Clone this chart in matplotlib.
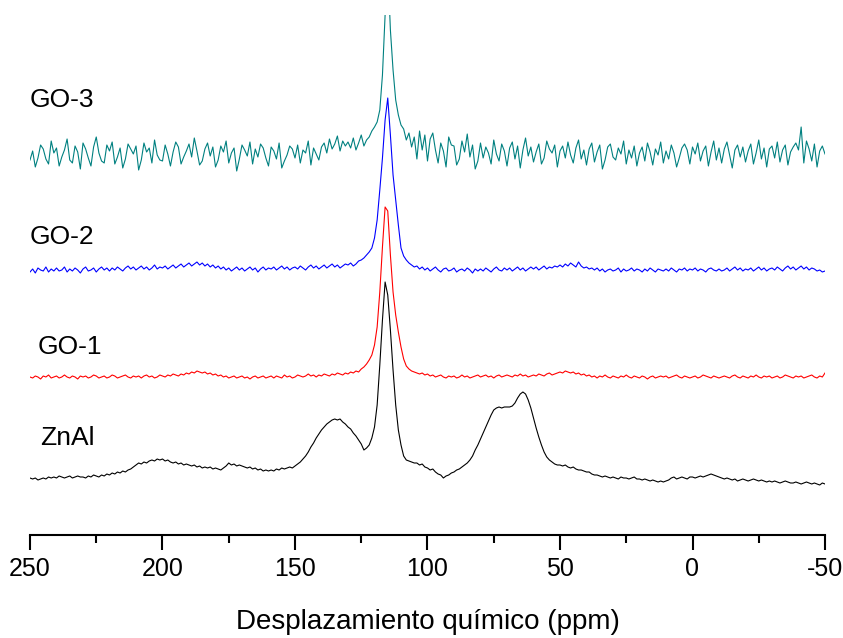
import numpy as np
import matplotlib
matplotlib.use("Agg")
import matplotlib.pyplot as plt
from matplotlib.ticker import MultipleLocator

plt.rcParams['font.family'] = ['Liberation Sans', 'DejaVu Sans']
plt.rcParams['axes.unicode_minus'] = False

# chemical shift grid, 1 ppm steps from 250 down to -50
ppm = np.arange(250, -51, -1)

# intensities (arbitrary units, each trace on its own baseline)
znal = [
    2, 1, 2, 0, 1, 2, 1, 3, 2, 3,
    2, 4, 3, 2, 3, 4, 2, 3, 4, 3,
    3, 2, 4, 3, 5, 4, 3, 5, 4, 6,
    5, 7, 6, 8, 7, 9, 8, 10, 11, 13,
    15, 17, 16, 18, 17, 19, 20, 19, 21, 20,
    21, 19, 20, 18, 17, 18, 16, 17, 15, 16,
    15, 14, 15, 13, 14, 12, 13, 12, 13, 11,
    12, 11, 10, 12, 14, 17, 15, 16, 14, 15,
    14, 13, 12, 13, 11, 12, 10, 11, 9, 10,
    9, 10, 9, 11, 10, 12, 11, 12, 13, 12,
    14, 16, 18, 21, 24, 28, 33, 37, 42, 46,
    50, 53, 56, 58, 60, 61, 60, 61, 58, 56,
    53, 51, 47, 44, 40, 36, 30, 32, 35, 42,
    53, 75, 115, 160, 198, 185, 150, 110, 75, 50,
    35, 24, 20, 19, 18, 17, 17, 15, 16, 13,
    12, 10, 11, 8, 6, 5, 2, 4, 5, 7,
    8, 10, 11, 13, 15, 17, 20, 24, 30, 35,
    41, 47, 53, 59, 65, 70, 72, 73, 72, 73,
    73, 73, 74, 77, 82, 86, 88, 86, 80, 72,
    62, 52, 43, 35, 28, 23, 20, 18, 16, 15,
    15, 14, 15, 13, 12, 13, 11, 10, 10, 9,
    8, 8, 6, 5, 5, 4, 3, 4, 3, 2,
    3, 2, 1, 3, 2, 2, 1, 2, 3, 1,
    1, 0, 1, 0, -1, 0, -1, -2, -1, -2,
    -1, 0, 2, 3, 1, 2, 3, 2, 1, 3,
    3, 2, 3, 4, 3, 4, 5, 6, 5, 4,
    3, 2, 1, 2, 1, 0, 1, -1, 0, 1,
    0, -1, 0, 1, 0, -1, 0, -1, -2, -1,
    -2, -1, -2, -3, -2, -1, -2, -3, -3, -2,
    -3, -4, -3, -2, -3, -4, -3, -4, -5, -3, -4,
]

go1 = [
    0, -1, 1, 0, -2, 1, 0, 2, -1, 0,
    1, -1, 0, 2, 0, -1, 1, 0, -2, 1,
    0, 1, -1, 0, 2, 1, -1, 0, 1, -1,
    0, 2, 1, -1, 0, 1, 2, 0, -1, 1,
    0, 1, -1, 1, 2, 0, 1, -1, 0, 2,
    1, 0, 2, 1, 3, 2, 1, 3, 2, 4,
    3, 5, 4, 6, 5, 4, 5, 3, 4, 2,
    3, 1, 2, 0, 1, -1, 0, 1, -1, 0,
    1, -1, 0, -2, 0, 1, -1, 0, 1, -1,
    0, 1, -1, 1, 0, -1, 2, 0, 1, -1,
    0, 2, 1, 0, 1, 3, 1, 2, 0, 2,
    1, 3, 2, 1, 3, 2, 4, 3, 2, 4,
    3, 5, 4, 6, 5, 8, 10, 13, 17, 22,
    32, 50, 85, 130, 170, 166, 122, 85, 62, 45,
    30, 18, 11, 8, 6, 5, 4, 3, 4, 2,
    3, 1, 2, 0, 1, 2, 0, -1, 1, 0,
    1, -1, 0, 2, 0, 1, -1, 0, 1, 2,
    0, 1, 2, 0, 1, -1, 1, 2, 0, 1,
    2, 1, 0, 2, 1, 3, 1, 2, 0, 1,
    2, 1, 3, 2, 1, 3, 4, 2, 3, 4,
    5, 4, 6, 5, 4, 5, 3, 4, 2, 3,
    1, 2, 0, 1, -1, 1, 0, 2, 0, -1,
    1, 0, -1, 1, 0, 2, 0, -1, 1, 0,
    -1, 1, 0, -2, 0, 1, -1, 0, 1, 0,
    1, -1, 0, 1, 2, 0, -1, 1, 0, -1,
    0, 1, -1, 0, 2, 1, 0, -1, 1, 0,
    -1, 0, 1, 0, -1, 1, 2, 0, -1, 1,
    0, -1, 1, 0, 2, 0, -1, 1, 0, 1,
    -1, 0, 1, -1, 0, 2, 1, 0, -1, 1,
    0, 1, -1, 0, 1, 2, 0, -1, 1, 0, 4,
]

go2 = [
    -2, 1, -3, 2, 0, -1, 3, -2, 1, -1,
    2, -1, 0, 3, -2, 1, -1, 2, 0, -3,
    1, 3, -1, 0, 2, -2, 1, 3, 0, 2,
    -1, 2, 0, 3, 1, -1, 2, 4, 1, 3,
    0, 2, 4, 1, 3, 0, 2, 5, 1, 3,
    2, 4, 1, 3, 5, 2, 4, 6, 3, 5,
    7, 4, 6, 8, 5, 7, 4, 6, 3, 5,
    2, 4, 1, 3, 0, 2, -1, 1, 3, 0,
    2, -1, 1, 3, 0, 2, -2, 1, 3, 0,
    2, 1, 3, 0, 2, 4, 1, 3, 0, 2,
    3, 1, 4, 2, 0, 3, 5, 2, 4, 1,
    3, 5, 2, 4, 6, 3, 5, 2, 4, 6,
    5, 7, 4, 6, 9, 10, 12, 15, 18, 22,
    32, 50, 80, 112, 150, 172, 135, 95, 70, 45,
    22, 14, 10, 7, 5, 3, 4, 1, 3, 0,
    2, -1, 1, 3, 0, -2, 1, 2, -1, 0,
    2, -2, 0, 1, -1, 2, 0, -3, 1, -1,
    1, -1, 2, 0, -2, 1, 3, 0, -1, 2,
    0, 2, -1, 1, 3, 0, 2, -1, 1, 3,
    1, 3, 0, 2, 4, 1, 3, 2, 4, 3,
    5, 3, 6, 4, 7, 5, 3, 8, 4, 2,
    3, 1, 2, 0, 2, -1, 1, -2, 0, 1,
    -1, 0, 2, -2, 1, -1, 0, 2, -1, 1,
    0, -2, 1, -1, 2, 0, -2, 1, 0, -1,
    1, -1, 2, 0, -2, 1, 0, 2, -1, 1,
    0, 2, -1, 1, 0, -2, 1, 2, 0, -1,
    1, -1, 0, 2, -1, 1, 3, 0, 2, -1,
    1, 0, 2, -1, 1, 3, 0, 2, -1, 1,
    2, 0, 3, 1, -1, 2, 4, 1, 3, 0,
    2, 4, 1, 3, 0, 2, 1, -1, 0, -2, -1,
]

go3 = [
    -5, 4, -12, -3, 10, 6, -4, -9, 14, 2,
    7, -11, -2, 5, 16, -5, -8, 9, 3, -14,
    12, 6, -3, -11, 8, 18, 2, -6, -8, 10,
    4, 13, -9, -2, 7, -13, -4, 11, 6, 1,
    9, -15, -5, 12, 3, 7, -8, 15, 0, -5,
    -6, 10, 1, -11, 3, 13, 8, -9, -2, 4,
    11, -2, 17, 4, -10, -6, 6, 12, -1, 8,
    -12, -5, 9, 3, 14, -8, 2, 7, -16, -4,
    10, 5, -1, 13, -9, 6, -2, 11, 7, -3,
    -11, 8, 4, -4, 12, -13, -6, 0, 9, 6,
    -3, 10, -8, 5, 2, 14, -10, 7, 1, -5,
    8, 12, 2, 16, 6, 11, 19, 4, 14, 9,
    13, 7, 17, 5, 12, 20, 9, 15, 18, 24,
    28, 33, 45, 80, 140, 190, 125, 85, 55, 40,
    30, 26, 15, 22, 8, 18, -4, 24, 5, 20,
    -6, 16, 22, 5, -8, 12, 4, -12, 18, 10,
    9, -10, -4, 14, 3, 21, -2, 10, -14, -6,
    12, -3, 8, 2, -9, 15, 1, -6, 11, 4,
    -11, 7, 13, -4, 9, -13, 5, 17, -1, 8,
    -7, 3, 11, -9, -3, 14, 6, 2, 10, -12,
    4, 9, -3, 13, 0, -8, 7, 15, -4, 5,
    -10, 6, 12, -7, 3, 10, -14, -5, 8, 11,
    -2, -5, 7, 1, 14, -9, 5, -3, 9, -11,
    2, 8, -6, 12, 3, -10, 6, 0, 13, -8,
    4, -4, 10, 2, -12, -3, 7, 11, 5, -9,
    8, 1, 12, -6, 4, 9, -11, 3, 14, -5,
    7, -8, 6, 13, 0, -13, 5, 10, -2, 8,
    -7, 4, 11, -9, 2, 15, -4, 7, -12, 6,
    9, -3, 13, -7, 5, 10, -10, 3, 8, 12,
    5, 28, -8, 14, 6, -6, 11, -12, 4, 9, 1,
]

names = ["ZnAl", "GO-1", "GO-2", "GO-3"]
series = [znal, go1, go2, go3]
colors = ["black", "#ff0000", "#0000ff", "#008080"]
offsets = [55, 158, 265, 380]
label_pos = [(246, 97), (247, 188), (250, 298), (250, 435)]

fig = plt.figure(figsize=(8.43, 6.38), dpi=100)
ax = fig.add_axes([30 / 843, 103 / 638, 795 / 843, 520 / 638])

for name, y, c, off, (lx, ly) in zip(names, series, colors, offsets, label_pos):
    ax.plot(ppm, np.array(y) + off, color=c, lw=0.8)
    ax.text(lx, ly, name, fontsize=19, ha="left", va="center")

ax.set_xlim(250, -50)
ax.set_ylim(0, 520)
ax.xaxis.set_major_locator(MultipleLocator(50))
ax.xaxis.set_minor_locator(MultipleLocator(25))
ax.set_yticks([])
for s in ["left", "right", "top"]:
    ax.spines[s].set_visible(False)
ax.spines["bottom"].set_linewidth(1.5)
ax.tick_params(axis="x", which="major", direction="out", length=11, width=1.5,
               labelsize=18, pad=5)
ax.tick_params(axis="x", which="minor", direction="out", length=6, width=1.5)
ax.set_xlabel("Desplazamiento químico (ppm)", fontsize=20, labelpad=20)

fig.savefig("out.png", dpi=100)
